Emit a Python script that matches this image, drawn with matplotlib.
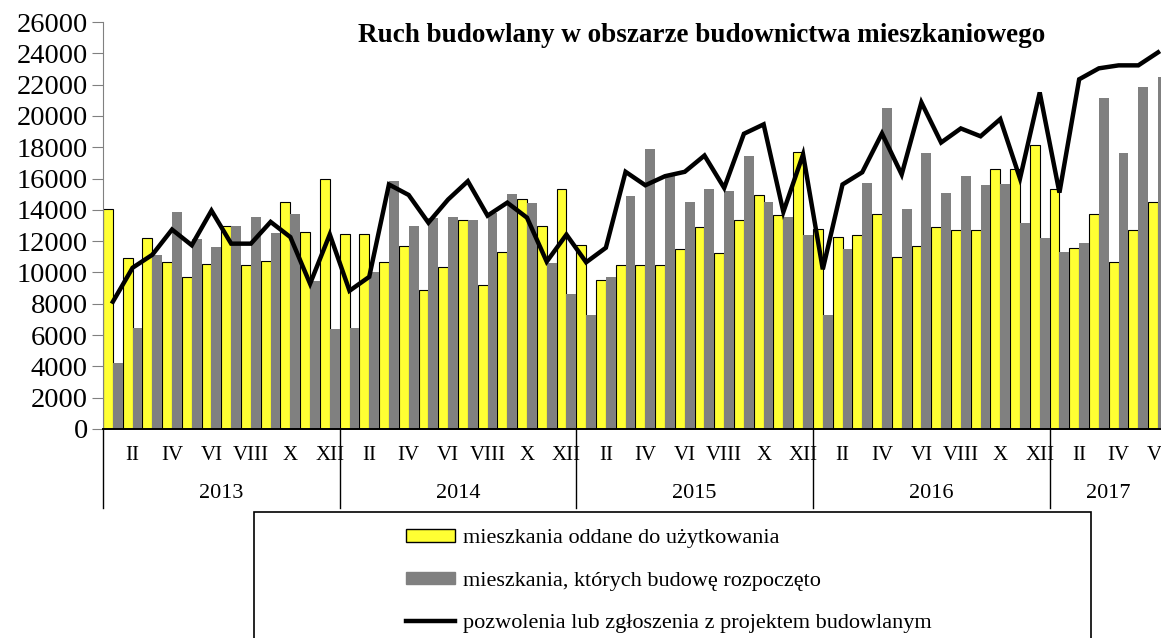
import matplotlib
matplotlib.use('Agg')
import matplotlib.pyplot as plt
from matplotlib.patches import Patch, Rectangle
from matplotlib.lines import Line2D
import numpy as np

plt.rcParams['font.family'] = ['Liberation Serif', 'DejaVu Serif']

# monthly data, Jan 2013 - Jun 2017
oddane = [14080, 10950, 12200, 10640, 9740, 10560, 13000, 10450, 10750, 14480, 12590, 15980,
          12480, 12480, 10640, 11670, 8900, 10370, 13320, 9220, 11330, 14720, 13000, 15360,
          11730, 9540, 10450, 10450, 10450, 11500, 12910, 11240, 13340, 14940, 13700, 17710,
          12780, 12270, 12390, 13740, 10980, 11660, 12890, 12720, 12720, 16580, 16580, 18120,
          15350, 11540, 13750, 10670, 12720, 14480]
rozpoczete = [4220, 6460, 11100, 13870, 12130, 11630, 12950, 13550, 12530, 13760, 9440, 6390,
              6460, 10050, 15830, 12950, 13500, 13550, 13320, 13820, 15040, 14460, 10620, 8640,
              7300, 9740, 14870, 17860, 16150, 14480, 15300, 15190, 17470, 14480, 13550, 12410,
              7300, 11500, 15730, 20530, 14060, 17640, 15090, 16190, 15600, 15620, 13170, 12230,
              11300, 11910, 21120, 17640, 21850, 22470]
pozwolenia = [8130, 10300, 11130, 12740, 11740, 13950, 11840, 11840, 13230, 12260, 9280, 12430,
              8830, 9720, 15620, 14950, 13180, 14660, 15830, 13630, 14460, 13500, 10690, 12420,
              10650, 11580, 16430, 15570, 16150, 16430, 17470, 15400, 18860, 19460, 13870, 17540,
              10200, 15620, 16400, 18880, 16260, 20860, 18300, 19200, 18700, 19800, 16000, 21500,
              15100, 22340, 23040, 23230, 23230, 24060]

years = ['2013', '2014', '2015', '2016', '2017']
months_per_year = [12, 12, 12, 12, 6]
month_names = ['II', 'IV', 'VI', 'VIII', 'X', 'XII']

labels = ['mieszkania oddane do użytkowania',
          'mieszkania, których budowę rozpoczęto',
          'pozwolenia lub zgłoszenia z projektem budowlanym']
title = 'Ruch budowlany w obszarze budownictwa mieszkaniowego'

YELLOW = '#ffff33'
GREY = '#808080'

W, H = 1161, 638
fig = plt.figure(figsize=(W / 100, H / 100), dpi=100)
ax = fig.add_axes([103 / W, 209 / H, (W - 103) / W, 407 / H])

x = np.arange(len(oddane))
ax.bar(x, oddane, width=0.5, align='edge', color=YELLOW, edgecolor='black', linewidth=0.8, zorder=2)
ax.bar(x + 0.5, rozpoczete, width=0.5, align='edge', color=GREY, linewidth=0, zorder=2)
ax.plot(x + 0.5, pozwolenia, color='black', linewidth=3.2, zorder=3, solid_joinstyle='miter')

ax.set_xlim(0, 53.65)
ax.set_ylim(0, 26000)
ax.set_yticks(range(0, 26001, 2000))
ax.tick_params(axis='y', direction='out', length=8, color=GREY, labelsize=20.5, pad=3)
for s in ['top', 'right']:
    ax.spines[s].set_visible(False)
ax.spines['left'].set_color(GREY)
ax.spines['bottom'].set_color('black')
ax.spines['bottom'].set_linewidth(1.4)

# month labels
tick_pos, tick_lab = [], []
start = 0
for n in months_per_year:
    for k in range(1, n, 2):
        tick_pos.append(start + k + 0.5)
        tick_lab.append(month_names[k // 2])
    start += n
ax.set_xticks(tick_pos)
ax.set_xticklabels(tick_lab, fontsize=15)
ax.tick_params(axis='x', length=0, pad=12)

# year labels and separators
trans = ax.get_xaxis_transform()
start = 0
for yr, n in zip(years, months_per_year):
    ax.text(start + n / 2, -65 / 407, yr, transform=trans, ha='center', va='center', fontsize=16)
    ax.plot([start, start], [0, -79 / 407], transform=trans, color='black', linewidth=1, clip_on=False)
    start += n

fig.text(702 / W, 1 - 35 / H, title, ha='center', va='center', fontsize=19.5, fontweight='bold')

# legend box
fig.add_artist(Rectangle((254 / W, -0.1), (1091 - 254) / W, 0.1 + (638 - 512) / H,
                         transform=fig.transFigure, fill=False, edgecolor='black', linewidth=1.2))
handles = [Patch(facecolor=YELLOW, edgecolor='black', linewidth=1),
           Patch(facecolor=GREY, edgecolor=GREY),
           Line2D([0], [0], color='black', linewidth=3.2)]
fig.legend(handles, labels, loc='upper left', bbox_to_anchor=(406 / W, 1 - 529 / H),
           frameon=False, fontsize=16, handlelength=2.2, handleheight=0.5,
           handletextpad=0.35, labelspacing=1.05, borderpad=0, borderaxespad=0)

fig.savefig('out.png', dpi=100)
